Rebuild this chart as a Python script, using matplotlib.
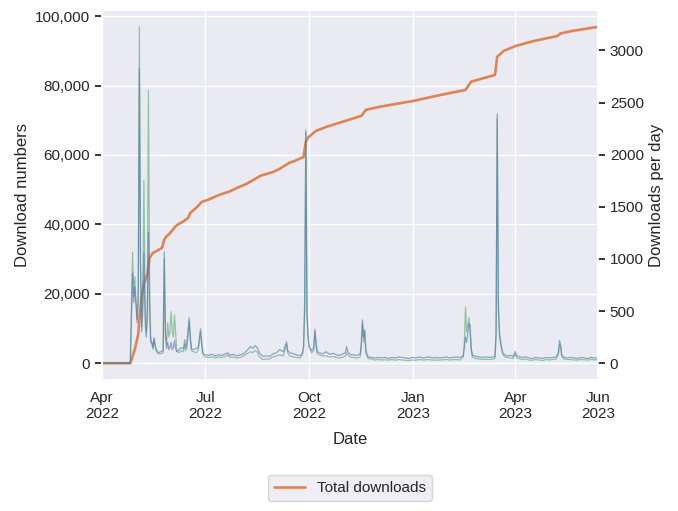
import matplotlib
matplotlib.use("Agg")
import matplotlib.pyplot as plt
import matplotlib.ticker as mticker
import pandas as pd
import seaborn as sns

# day offsets from 2022-04-01
start = pd.Timestamp("2022-04-01")

daily_days = [0, 25, 27, 28, 29, 30, 31, 32, 33, 34, 35, 36, 37, 38, 39, 40, 41, 42, 43, 44,
              45, 46, 47, 48, 50, 52, 54, 55, 56, 57, 58, 59, 60, 61, 62, 63, 64, 65, 66, 68,
              70, 72, 73, 74, 75, 77, 78, 79, 81, 83, 85, 87, 88, 89, 91, 94, 97, 100, 103, 106,
              109, 111, 113, 116, 119, 122, 125, 128, 131, 133, 135, 137, 139, 142, 145, 148, 151, 154, 157, 160,
              163, 164, 166, 169, 172, 175, 177, 178, 179, 180, 181, 182, 183, 185, 187, 188, 189, 190, 192, 195,
              198, 201, 204, 207, 210, 213, 215, 216, 217, 219, 222, 225, 228, 229, 230, 231, 232, 233, 235, 238,
              241, 244, 247, 250, 253, 256, 259, 262, 265, 268, 271, 274, 277, 280, 283, 286, 289, 292, 295, 298,
              301, 304, 307, 310, 313, 316, 319, 320, 321, 322, 323, 324, 325, 326, 327, 330, 333, 336, 339, 342,
              345, 347, 348, 349, 350, 351, 352, 353, 354, 356, 358, 361, 363, 365, 366, 368, 371, 374, 377, 380,
              383, 386, 389, 392, 395, 398, 401, 403, 404, 405, 406, 408, 411, 414, 417, 420, 423, 426, 429, 432,
              435, 438]

daily_a = [0, 0, 865, 580, 730, 560, 390, 600, 2825, 900, 300, 500, 1056, 420, 250, 400, 1257, 500, 196, 200,
           150, 244, 170, 130, 100, 110, 120, 1069, 300, 140, 200, 130, 150, 200, 130, 150, 220, 140, 110, 130,
           148, 140, 225, 150, 200, 435, 250, 140, 130, 140, 150, 330, 200, 100, 80, 75, 85, 70, 80, 75,
           90, 100, 75, 85, 70, 80, 90, 120, 160, 140, 170, 150, 100, 65, 70, 65, 90, 100, 130, 110,
           206, 120, 100, 90, 80, 70, 100, 160, 600, 2216, 500, 256, 161, 120, 150, 327, 200, 110, 100, 90,
           110, 85, 95, 80, 75, 90, 100, 161, 110, 85, 80, 75, 90, 200, 416, 250, 320, 120, 60, 55,
           50, 55, 50, 55, 45, 55, 50, 60, 55, 50, 45, 55, 50, 60, 50, 55, 60, 50, 55, 50,
           55, 60, 50, 55, 60, 55, 70, 150, 250, 200, 291, 380, 368, 150, 80, 65, 60, 55, 60, 55,
           60, 65, 300, 2392, 600, 292, 208, 148, 97, 80, 70, 75, 65, 113, 70, 65, 55, 60, 50, 45,
           55, 50, 45, 55, 50, 55, 60, 100, 218, 180, 80, 55, 50, 55, 50, 45, 55, 50, 45, 55,
           50, 50]

daily_b = [0, 0, 1066, 640, 830, 600, 420, 700, 3227, 1000, 350, 600, 1754, 600, 300, 500, 2615, 800, 250, 200,
           130, 230, 150, 110, 90, 90, 100, 1000, 250, 180, 387, 250, 300, 495, 300, 250, 464, 300, 120, 100,
           120, 110, 180, 120, 150, 400, 220, 120, 110, 100, 120, 300, 180, 90, 60, 55, 60, 50, 60, 55,
           65, 80, 55, 60, 50, 55, 70, 90, 110, 100, 120, 110, 60, 35, 40, 40, 60, 70, 80, 70,
           180, 100, 70, 60, 55, 50, 80, 150, 500, 2239, 450, 240, 150, 100, 120, 300, 180, 90, 80, 70,
           70, 60, 65, 55, 50, 60, 70, 100, 80, 60, 55, 50, 60, 150, 380, 200, 300, 100, 45, 40,
           30, 35, 30, 32, 30, 35, 28, 35, 30, 28, 25, 30, 28, 35, 30, 32, 35, 28, 30, 30,
           32, 35, 30, 32, 35, 30, 60, 200, 537, 300, 350, 438, 300, 130, 60, 45, 40, 35, 38, 35,
           40, 45, 250, 2350, 500, 260, 180, 130, 80, 60, 55, 50, 45, 90, 50, 45, 35, 40, 30, 28,
           35, 30, 25, 35, 30, 35, 40, 80, 180, 150, 60, 40, 35, 35, 30, 30, 35, 32, 30, 35,
           32, 35]

total_days = [0, 25, 29, 32, 33, 35, 37, 40, 42, 45, 48, 53, 55, 57, 59, 65, 67, 72, 76, 78,
              84, 88, 94, 104, 113, 119, 128, 134, 140, 151, 157, 166, 169, 178, 180, 182, 189, 199, 215, 229,
              233, 246, 275, 299, 321, 326, 347, 349, 355, 365, 381, 402, 405, 416, 438]
total_vals = [0, 0, 4000, 8300, 12650, 19340, 22800, 25600, 30370, 31810, 32300, 33250, 35640, 36590, 37070, 39460, 39950, 40900, 41870, 43310,
              45030, 46470, 47130, 48570, 49530, 50490, 51730, 52880, 54030, 55090, 56040, 57850, 58140, 59400, 63890, 65040, 66960, 68200, 69840, 71280,
              73000, 73950, 75590, 77310, 78750, 81140, 83060, 88320, 90040, 91390, 92830, 94270, 95040, 95790, 96940]

tick_days = [0, 91, 183, 275, 365, 438]
tick_labels = ["Apr\n2022", "Jul\n2022", "Oct\n2022", "Jan\n2023", "Apr\n2023", "Jun\n2023"]

sns.set_theme(style="darkgrid")
plt.rcParams["font.family"] = ["Liberation Sans", "DejaVu Sans"]

daily_dates = start + pd.to_timedelta(daily_days, unit="D")
total_dates = start + pd.to_timedelta(total_days, unit="D")
tick_dates = start + pd.to_timedelta(tick_days, unit="D")

fig = plt.figure(figsize=(6.78, 5.11), dpi=100)
ax = fig.add_axes([102 / 678, 1 - 380 / 511, 496 / 678, 370 / 511])

ax.plot(total_dates, total_vals, color="#dd8452", linewidth=1.9, label="Total downloads")
ax.set_xlim(tick_dates[0], tick_dates[-1])
ax.set_xticks(tick_dates)
ax.set_xticklabels(tick_labels)
ax.tick_params(axis="x", labelsize=11, pad=8, length=0)
ax.tick_params(axis="y", labelsize=11, left=True, length=5, width=1.3, color="#262626")
ax.yaxis.set_major_formatter(mticker.StrMethodFormatter("{x:,.0f}"))
ax.set_xlabel("Date", fontsize=12, labelpad=8)
ax.set_ylabel("Download numbers", fontsize=12)

ax2 = ax.twinx()
ax2.plot(daily_dates, daily_b, color="#55a868", linewidth=0.9, alpha=0.6)
ax2.plot(daily_dates, daily_a, color="#4c72b0", linewidth=0.9, alpha=0.6)
ax2.grid(False)
ax2.tick_params(axis="y", labelsize=11, right=True, length=5, width=1.3, color="#262626")
ax2.set_ylabel("Downloads per day", fontsize=12)
ax2.set_xlim(tick_dates[0], tick_dates[-1])

fig.legend(loc="center", bbox_to_anchor=(350 / 678, 1 - 488 / 511), fontsize=11,
           facecolor="#eaeaf2", edgecolor="#cccccc")

fig.savefig("out.png", dpi=100)
